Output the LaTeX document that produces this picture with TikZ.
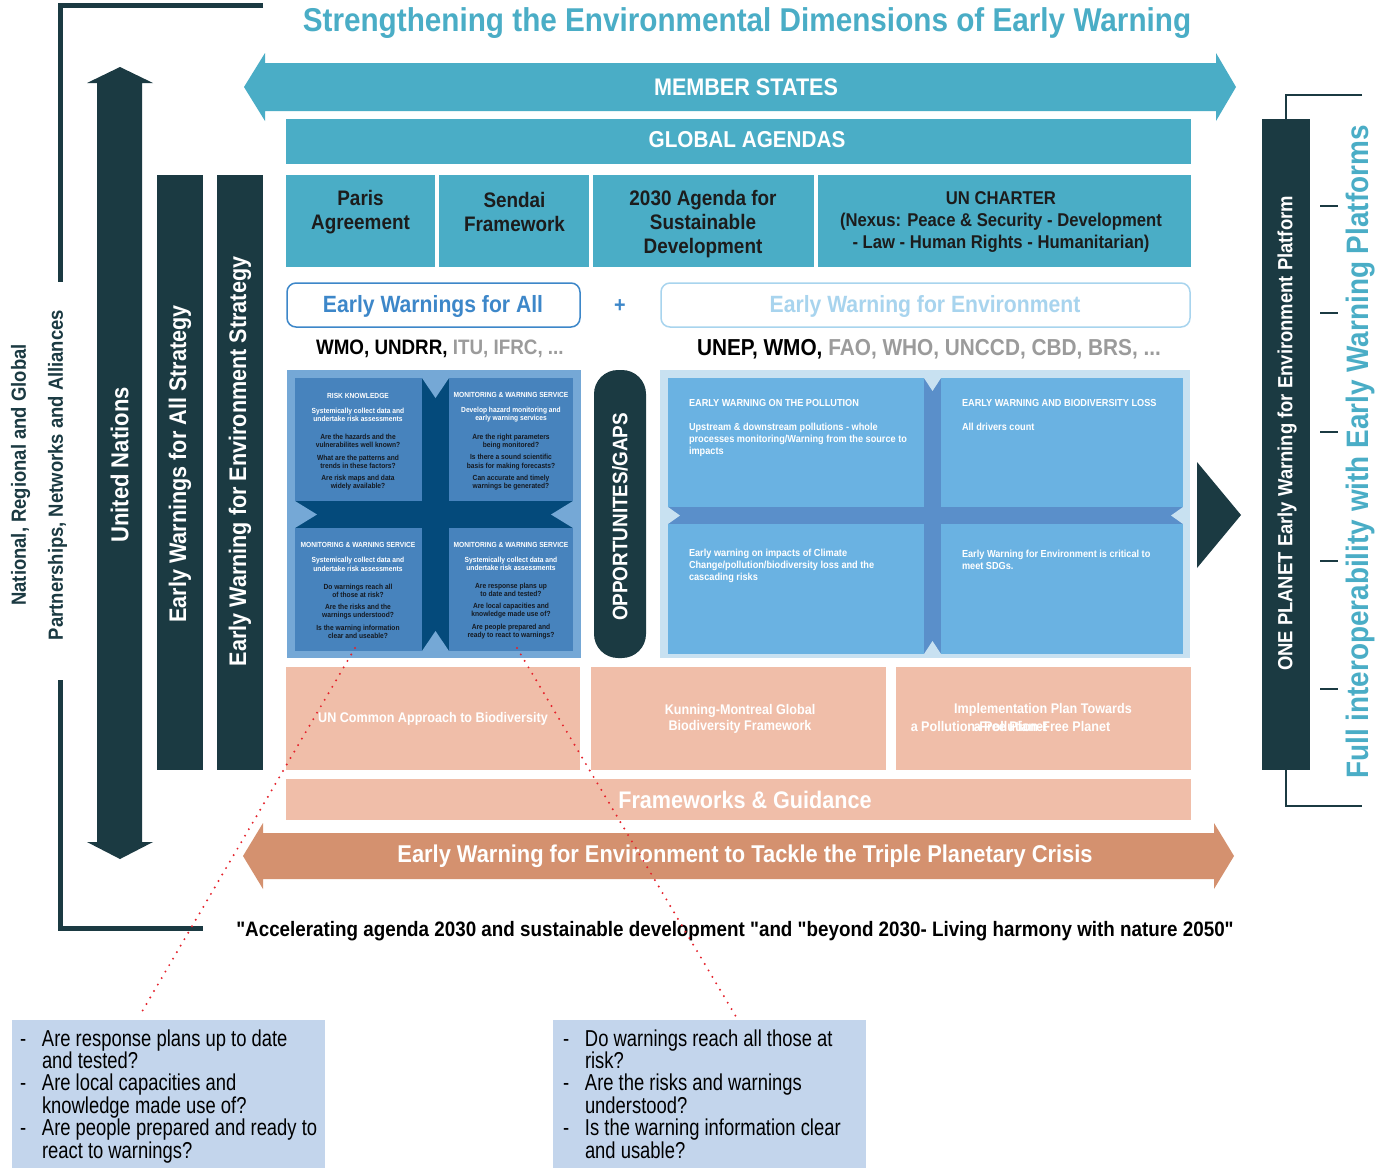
\documentclass[tikz,border=0pt]{standalone}
\usepackage{fontspec}
\setmainfont{Liberation Sans}
\newfontfamily\rb[FakeStretch=0.9]{Liberation Sans}
\newfontfamily\nr[FakeStretch=0.8]{Liberation Sans}
\usetikzlibrary{fit,calc}
\definecolor{dk}{HTML}{1B3A42}
\definecolor{tealc}{HTML}{4AADC6}
\definecolor{ewa}{HTML}{3D87C9}
\definecolor{ewe}{HTML}{A8D4EE}
\definecolor{grayt}{HTML}{9B9B9B}
\definecolor{lqout}{HTML}{75A8D6}
\definecolor{lqbox}{HTML}{4783BD}
\definecolor{lqx}{HTML}{044A7B}
\definecolor{rqout}{HTML}{C8E1F1}
\definecolor{rqbox}{HTML}{6AB2E2}
\definecolor{rqx}{HTML}{5A8FCA}
\definecolor{salmon}{HTML}{F0BEA9}
\definecolor{terra}{HTML}{D4916F}
\definecolor{callc}{HTML}{C3D5EC}
\definecolor{qtxt}{HTML}{151A22}
\definecolor{agtxt}{HTML}{1C1C1C}
\definecolor{reddot}{HTML}{E5222B}
\begin{document}
\begin{tikzpicture}[x=1pt,y=-1pt,every node/.style={inner sep=0pt,outer sep=0pt}]
\tikzset{
 bf/.style={font=\rb\bfseries\fontsize{#1}{#1}\selectfont},
 qh/.style={font=\rb\bfseries\fontsize{7.4}{8.4}\selectfont, text=white, align=center},
 qq/.style={font=\rb\bfseries\fontsize{7.4}{8.4}\selectfont, text=qtxt, align=center},
 rt/.style={font=\rb\bfseries\fontsize{10.2}{12}\selectfont, text=white, align=left},
 sal/.style={font=\rb\bfseries\fontsize{14}{16}\selectfont, text=white, align=center},
 agt/.style={font=\rb\bfseries\fontsize{21}{24}\selectfont, text=agtxt, align=center},
 callt/.style={font=\nr\fontsize{23}{22.4}\selectfont, text=black, align=left, anchor=north west},
 dots/.style={reddot, line width=2.2pt, line cap=round, dash pattern=on 0pt off 7.5pt},
}
\fill[white] (0,0) rectangle (1391,1168);
\useasboundingbox (0,0) rectangle (1391,1168);

% title
\node[bf=33, text=tealc] (title) at (747,23) {Strengthening the Environmental Dimensions of Early Warning};

% left bracket and partners text
\draw[dk, line width=5pt] (263,5.5) -- (60,5.5) -- (60,282);
\draw[dk, line width=5pt] (60,680) -- (60,928) -- (203,928);
\node[rotate=90, align=center, text=dk, font=\rb\bfseries\fontsize{20.5}{37}\selectfont] (partners) at (39,475) {National, Regional and Global\\Partnerships, Networks and Alliances};

% United Nations double arrow
\fill[dk] (120,67) -- (153,83) -- (142,83) -- (142,842) -- (153,842) -- (120,859) -- (87,842) -- (97,842) -- (97,83) -- (87,83) -- cycle;
\node[rotate=90, bf=24.5, text=white] (un) at (119.5,465) {United Nations};

% strategy bars
\node[fit={(157,175) (203,770)}, fill=dk] (ewabar) {};
\node[rotate=90, bf=24, text=white] (ewat) at (180,464) {Early Warnings for All Strategy};
\node[fit={(217,175) (263,770)}, fill=dk] (ewebar) {};
\node[rotate=90, bf=24, text=white] (ewet) at (240,461.5) {Early Warning for Environment Strategy};

% member states arrow
\fill[tealc] (244,87) -- (265,53) -- (265,63) -- (1216,63) -- (1216,53) -- (1236,87) -- (1216,121) -- (1216,111) -- (265,111) -- (265,121) -- cycle;
\node[bf=24, text=white] (ms) at (746,87) {MEMBER STATES};

% global agendas
\node[fit={(286,119) (1191,164)}, fill=tealc] (gab) {};
\node[bf=23, text=white] (gat) at (747,140) {GLOBAL AGENDAS};

\node[fit={(286,175) (435,267)}, fill=tealc] (pab) {};
\node[agt] (pat) at (360.5,212) {Paris\\Agreement};
\node[fit={(439,175) (589,267)}, fill=tealc] (seb) {};
\node[agt] (set) at (514.5,212) {Sendai\\Framework};
\node[fit={(593,175) (814,267)}, fill=tealc] (agb) {};
\node[agt] (agdt) at (703,224) {2030 Agenda for\\Sustainable\\Development};
\node[fit={(818,175) (1191,267)}, fill=tealc] (unb) {};
\node[align=center, font=\rb\bfseries\fontsize{18.5}{22}\selectfont, text=agtxt] (unt) at (1001,222) {UN CHARTER\\(Nexus: Peace \& Security - Development\\- Law - Human Rights - Humanitarian)};

% EWA / EWE
\node[fit={(287,283) (580,327)}, draw=ewa, line width=1.5pt, rounded corners=9pt] (ewab) {};
\node[bf=23.5, text=ewa] (ewatx) at (433,306) {Early Warnings for All};
\node[bf=22, text=ewa] (plus) at (620,306) {+};
\node[fit={(661,283) (1190,327)}, draw=ewe, line width=1.5pt, rounded corners=9pt] (eweb) {};
\node[bf=23.5, text=ewe] (ewetx) at (925,306) {Early Warning for Environment};

\node[bf=20.9, anchor=west] (wmo) at (316,349) {WMO, UNDRR, {\color{grayt}ITU, IFRC, ...}};
\node[bf=23.1, anchor=west] (unep) at (697,349) {UNEP, WMO, {\color{grayt}FAO, WHO, UNCCD, CBD, BRS, ...}};

% left quadrant
\node[fit={(287,370) (581,658)}, fill=lqout] (lq) {};
\fill[lqx] (295,378) rectangle (573,651);
\node[fit={(295,378) (422,501)}, fill=lqbox] (lq1) {};
\node[fit={(449,378) (573,501)}, fill=lqbox] (lq2) {};
\node[fit={(295,528) (422,651)}, fill=lqbox] (lq3) {};
\node[fit={(449,528) (573,651)}, fill=lqbox] (lq4) {};
\fill[lqout] (422,378) -- (449,378) -- (435.5,398) -- cycle;
\fill[lqout] (422,651) -- (449,651) -- (435.5,631) -- cycle;
\fill[lqout] (295,501) -- (295,528) -- (317,514.5) -- cycle;
\fill[lqout] (573,501) -- (573,528) -- (551,514.5) -- cycle;

\node[qh] (q1h) at (358,396) {RISK KNOWLEDGE};
\node[qh] (q1s) at (358,415) {Systemically collect data and\\undertake risk assessments};
\node[qq] (q1a) at (358,441) {Are the hazards and the\\vulnerabilites well known?};
\node[qq] (q1b) at (358,462) {What are the patterns and\\trends in these factors?};
\node[qq] (q1c) at (358,482.5) {Are risk maps and data\\widely available?};
\node[qh] (q2h) at (511,395) {MONITORING \& WARNING SERVICE};
\node[qh] (q2s) at (511,414.5) {Develop hazard monitoring and\\early warning services};
\node[qq] (q2a) at (511,441.5) {Are the right parameters\\being monitored?};
\node[qq] (q2b) at (511,462) {Is there a sound scientific\\basis for making forecasts?};
\node[qq] (q2c) at (511,482.5) {Can accurate and timely\\warnings be generated?};
\node[qh] (q3h) at (358,545) {MONITORING \& WARNING SERVICE};
\node[qh] (q3s) at (358,564.5) {Systemically collect data and\\undertake risk assessments};
\node[qq] (q3a) at (358,591) {Do warnings reach all\\of those at risk?};
\node[qq] (q3b) at (358,611.5) {Are the risks and the\\warnings understood?};
\node[qq] (q3c) at (358,632) {Is the warning information\\clear and useable?};
\node[qh] (q4h) at (511,545) {MONITORING \& WARNING SERVICE};
\node[qh] (q4s) at (511,564) {Systemically collect data and\\undertake risk assessments};
\node[qq] (q4a) at (511,590) {Are response plans up\\to date and tested?};
\node[qq] (q4b) at (511,610.5) {Are local capacities and\\knowledge made use of?};
\node[qq] (q4c) at (511,631.5) {Are people prepared and\\ready to react to warnings?};

% opportunities
\node[fit={(594,370) (646,658)}, fill=dk, rounded corners=24pt] (opp) {};
\node[rotate=90, bf=21, text=white] (oppt) at (620,517) {OPPORTUNITES/GAPS};

% right quadrant
\node[fit={(660,370) (1190,658)}, fill=rqout] (rq) {};
\fill[rqx] (668,378) rectangle (1183,654);
\node[fit={(668,378) (924,507)}, fill=rqbox] (rq1) {};
\node[fit={(941,378) (1183,507)}, fill=rqbox] (rq2) {};
\node[fit={(668,524) (924,654)}, fill=rqbox] (rq3) {};
\node[fit={(941,524) (1183,654)}, fill=rqbox] (rq4) {};
\fill[rqout] (924,378) -- (941,378) -- (932.5,391) -- cycle;
\fill[rqout] (924,654) -- (941,654) -- (932.5,641) -- cycle;
\fill[rqout] (668,507) -- (668,524) -- (680,515.5) -- cycle;
\fill[rqout] (1183,507) -- (1183,524) -- (1171,515.5) -- cycle;

\node[rt, anchor=west] (r1h) at (689,403) {EARLY WARNING ON THE POLLUTION};
\node[rt, anchor=north west] (r1b) at (689,423.3) {Upstream \& downstream pollutions - whole\\processes monitoring/Warning from the source to\\impacts};
\node[rt, anchor=west] (r2h) at (962,403) {EARLY WARNING AND BIODIVERSITY LOSS};
\node[rt, anchor=west] (r2b) at (962,427) {All drivers count};
\node[rt, anchor=north west] (r3b) at (689,549.3) {Early warning on impacts of Climate\\Change/pollution/biodiversity loss and the\\cascading risks};
\node[rt, anchor=north west] (r4b) at (962,550.3) {Early Warning for Environment is critical to\\meet SDGs.};

% frameworks
\node[fit={(286,667) (580,770)}, fill=salmon] (s1) {};
\node[sal] (s1t) at (433,719) {UN Common Approach to Biodiversity};
\node[fit={(591,667) (886,770)}, fill=salmon] (s2) {};
\node[sal] (s2t) at (740,718.5) {Kunning-Montreal Global\\Biodiversity Framework};
\node[fit={(896,667) (1191,770)}, fill=salmon] (s3) {};
\node[sal] (s3t) at (1043,710) {Implementation Plan Towards};
\node[sal] (s3a) at (979,726) {a Pollution-Free Planet};
\node[sal] (s3b) at (1042,726) {a Pollution-Free Planet};

\node[fit={(286,779) (1191,820)}, fill=salmon] (fg) {};
\node[bf=24, text=white] (fgt) at (745,800) {Frameworks \& Guidance};

% bottom arrow
\fill[terra] (243,856) -- (263,823) -- (263,833) -- (1214,833) -- (1214,823) -- (1234,856) -- (1214,889) -- (1214,879) -- (263,879) -- (263,889) -- cycle;
\node[bf=24.3, text=white] (bat) at (745,856) {Early Warning for Environment to Tackle the Triple Planetary Crisis};

\node[bf=20.9] (quote) at (735,931) {"Accelerating agenda 2030 and sustainable development "and "beyond 2030- Living harmony with nature 2050"};

% right side
\fill[dk] (1197,462) -- (1241,515) -- (1197,568) -- cycle;
\node[fit={(1262,119) (1310,770)}, fill=dk] (opb) {};
\node[rotate=90, bf=20.5, text=white] (opt) at (1287,433.5) {ONE PLANET Early Warning for Environment Platform};
\draw[dk, line width=1.8pt] (1362,95) -- (1286,95) -- (1286,119);
\draw[dk, line width=1.8pt] (1286,770) -- (1286,806) -- (1362,806);
\foreach \yy in {206,313,432,561,689} \draw[dk, line width=1.5pt] (1320,\yy) -- (1338,\yy);
\node[rotate=90, bf=31, text=tealc] (fi) at (1361,452) {Full interoperability with Early Warning Platforms};

% callouts
\node[fit={(12,1020) (325,1168)}, fill=callc] (callL) {};
\node[callt] (callLt) at (20,1029.5) {\makebox[22pt][l]{-}Are response plans up to date\\\hspace*{22pt}and tested?\\\makebox[22pt][l]{-}Are local capacities and\\\hspace*{22pt}knowledge made use of?\\\makebox[22pt][l]{-}Are people prepared and ready to\\\hspace*{22pt}react to warnings?};
\node[fit={(553,1020) (866,1168)}, fill=callc] (callR) {};
\node[callt] (callRt) at (563,1029.5) {\makebox[22pt][l]{-}Do warnings reach all those at\\\hspace*{22pt}risk?\\\makebox[22pt][l]{-}Are the risks and warnings\\\hspace*{22pt}understood?\\\makebox[22pt][l]{-}Is the warning information clear\\\hspace*{22pt}and usable?};

% dotted connectors
\coordinate (d1a) at (355,648);
\coordinate (d1b) at (140,1015);
\coordinate (d2a) at (517,648);
\coordinate (d2b) at (738,1020);
\draw[dots] (d1a) -- (d1b);
\draw[dots] (d2a) -- (d2b);
\end{tikzpicture}
\end{document}
